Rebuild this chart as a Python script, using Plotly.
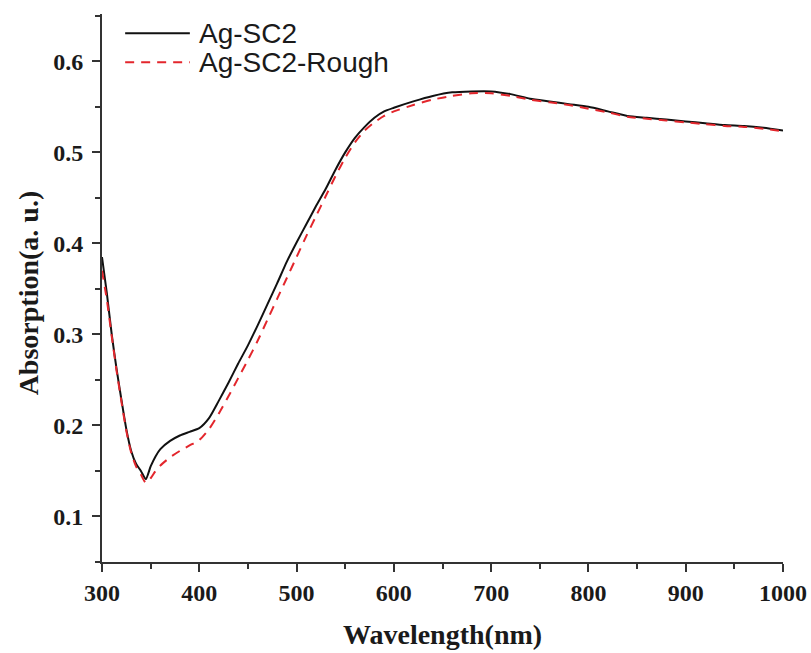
import plotly.graph_objects as go

wavelength = [300, 305, 310, 315, 320, 325, 330, 335, 340, 345, 350, 355, 360, 370, 380, 390,
              400, 410, 420, 430, 440, 450, 460, 470, 480, 490, 500, 510, 520, 530, 540, 550,
              560, 570, 580, 590, 600, 620, 640, 660, 680, 700, 720, 740, 760, 780, 800, 820,
              840, 860, 880, 900, 920, 940, 960, 980, 1000]

ag_sc2 = [0.385, 0.345, 0.300, 0.262, 0.228, 0.196, 0.172, 0.158, 0.150, 0.141, 0.155, 0.166,
          0.174, 0.183, 0.189, 0.193, 0.197, 0.208, 0.227, 0.247, 0.268, 0.288, 0.310, 0.333,
          0.356, 0.380, 0.401, 0.421, 0.441, 0.460, 0.481, 0.500, 0.516, 0.528, 0.538, 0.545,
          0.549, 0.556, 0.562, 0.566, 0.567, 0.567, 0.564, 0.559, 0.556, 0.553, 0.550, 0.545,
          0.540, 0.538, 0.536, 0.534, 0.532, 0.530, 0.529, 0.527, 0.524]

ag_sc2_rough = [0.370, 0.338, 0.298, 0.260, 0.226, 0.194, 0.170, 0.155, 0.146, 0.137, 0.142,
                0.150, 0.156, 0.165, 0.172, 0.178, 0.184, 0.196, 0.213, 0.232, 0.252, 0.272,
                0.293, 0.316, 0.339, 0.362, 0.385, 0.408, 0.430, 0.452, 0.474, 0.494, 0.511,
                0.524, 0.533, 0.540, 0.545, 0.552, 0.558, 0.562, 0.565, 0.565, 0.562, 0.558,
                0.555, 0.552, 0.548, 0.544, 0.539, 0.537, 0.535, 0.533, 0.531, 0.529, 0.528,
                0.526, 0.523]

x_ticks = [300, 400, 500, 600, 700, 800, 900, 1000]
y_ticks = [0.1, 0.2, 0.3, 0.4, 0.5, 0.6]
y_ticklabels = ["0.1", "0.2", "0.3", "0.4", "0.5", "0.6"]

series_names = ["Ag-SC2", "Ag-SC2-Rough"]
x_title = "Wavelength(nm)"
y_title = "Absorption(a. u.)"

BLACK = "#111111"
RED = "#e3262c"
AXIS = "#333333"
TEXT = "#1a1a1a"
SERIF = "Liberation Serif, Times New Roman, serif"
SANS = "Liberation Sans, Arial, sans-serif"

fig = go.Figure()
fig.add_trace(go.Scatter(x=wavelength, y=ag_sc2, mode="lines", name=series_names[0],
                         line=dict(color=BLACK, width=2, shape="spline", smoothing=0.6),
                         showlegend=False))
fig.add_trace(go.Scatter(x=wavelength, y=ag_sc2_rough, mode="lines", name=series_names[1],
                         line=dict(color=RED, width=2, dash="9px,7px", shape="spline", smoothing=0.6),
                         showlegend=False))

# custom legend (long line samples like the original)
legend_rows = [(0.965, BLACK, "solid"), (0.912, RED, "9px,7px")]
for (yy, col, dash), name in zip(legend_rows, series_names):
    fig.add_shape(type="line", xref="paper", yref="paper", x0=0.034, x1=0.129, y0=yy, y1=yy,
                  line=dict(color=col, width=2, dash=dash))
    fig.add_annotation(xref="paper", yref="paper", x=0.1395, y=yy, text=name, showarrow=False,
                       xanchor="left", yanchor="middle",
                       font=dict(family=SANS, size=28, color=TEXT))

fig.add_annotation(xref="paper", yref="paper", x=0.5, y=-0.133, text=x_title,
                   showarrow=False, xanchor="center", yanchor="middle",
                   font=dict(family=SERIF, size=28, color=TEXT, weight="bold"))
fig.add_annotation(xref="paper", yref="paper", x=-0.1087, y=0.492, text=y_title,
                   showarrow=False, xanchor="center", yanchor="middle", textangle=-90,
                   font=dict(family=SERIF, size=28, color=TEXT, weight="bold"))

fig.update_layout(
    width=811, height=653, autosize=False,
    margin=dict(l=102, r=28, t=14, b=91, autoexpand=False),
    plot_bgcolor="white", paper_bgcolor="white",
    showlegend=False,
    xaxis=dict(range=[300, 1000], tickvals=x_ticks, automargin=False,
               showgrid=False, zeroline=False, showline=True, linecolor=AXIS, linewidth=2,
               ticks="outside", ticklen=8, tickwidth=2, tickcolor=AXIS,
               minor=dict(dtick=50, tick0=300, ticks="outside", ticklen=5, tickwidth=2, tickcolor=AXIS),
               tickfont=dict(family=SERIF, size=24, color=TEXT, weight="bold")),
    yaxis=dict(range=[0.05, 0.652], tickvals=y_ticks, ticktext=y_ticklabels, automargin=False,
               showgrid=False, zeroline=False, showline=True, linecolor=AXIS, linewidth=2,
               ticks="outside", ticklen=8, tickwidth=2, tickcolor=AXIS, ticklabelstandoff=4,
               minor=dict(dtick=0.05, tick0=0.05, ticks="outside", ticklen=5, tickwidth=2, tickcolor=AXIS),
               tickfont=dict(family=SERIF, size=24, color=TEXT, weight="bold")),
)

fig.write_html("out.html")
